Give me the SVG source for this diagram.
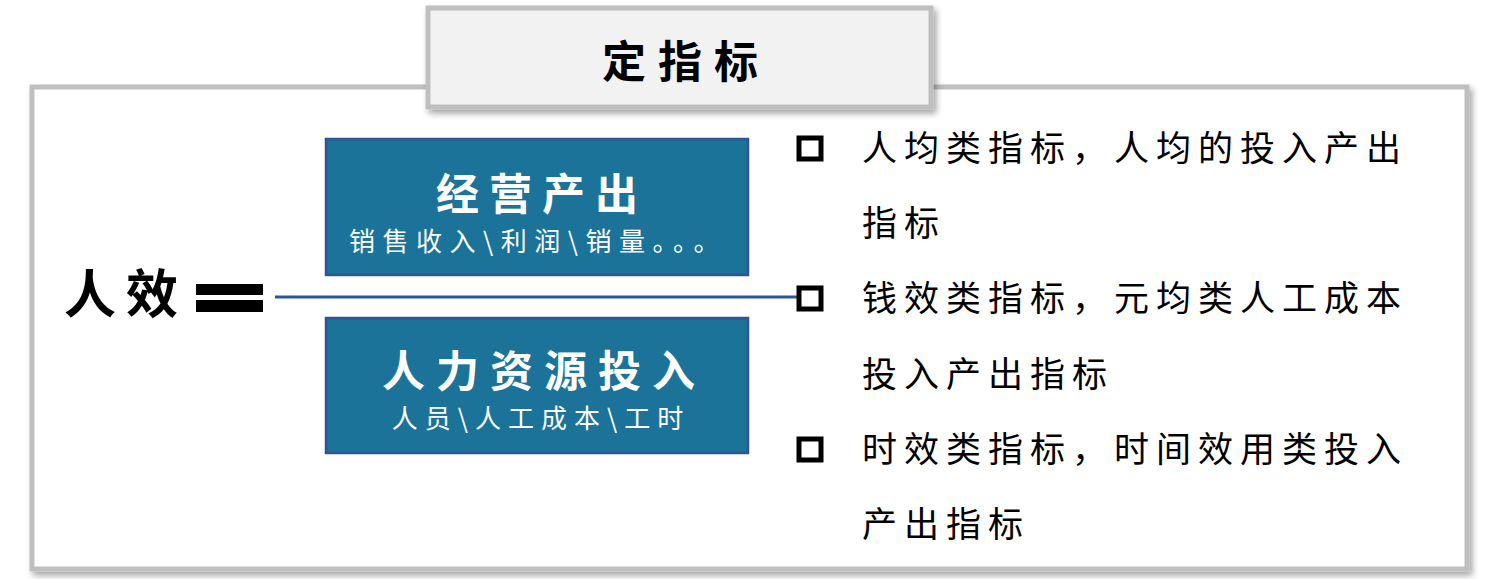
<svg xmlns="http://www.w3.org/2000/svg" width="1496" height="579" viewBox="0 0 1496 579">
<defs>
<filter id="sh" x="-10%" y="-10%" width="130%" height="140%">
<feDropShadow dx="3" dy="4" stdDeviation="3" flood-color="#000" flood-opacity="0.35"/>
</filter>
<style>
.cjk{font-family:"Noto Sans CJK SC","Noto Sans CJK JP",sans-serif}
.frame{fill:#fff;stroke:#bfbfbf;stroke-width:5}
.blue{fill:#1b7399;stroke:#2f5597;stroke-width:2.5}
.h{font-size:43px;font-weight:bold;fill:#fff;text-anchor:middle}
.s{font-size:26px;fill:#fff;text-anchor:middle}
.b{font-size:35px;fill:#000;letter-spacing:7px}
.sq{fill:#fff;stroke:#000;stroke-width:5}
</style>
</defs>
<rect width="1496" height="579" fill="#fff"/>
<g id="frame">
<rect class="frame" x="32" y="87" width="1435" height="482" filter="url(#sh)"/>
</g>
<g id="title">
<rect x="428" y="8" width="503" height="99" fill="#f2f2f2" stroke="#bfbfbf" stroke-width="5" filter="url(#sh)"/>
<text class="cjk" x="686" y="78" font-size="44" font-weight="bold" text-anchor="middle" letter-spacing="12">定指标</text>
</g>
<g id="renxiao">
<text class="cjk" x="64" y="313" font-size="52" font-weight="bold" letter-spacing="10">人效</text>
<rect x="196" y="284" width="67" height="11" fill="#000"/>
<rect x="196" y="300" width="67" height="12" fill="#000"/>
</g>
<g id="connectors">
<line x1="275" y1="297" x2="800" y2="297" stroke="#2a55a0" stroke-width="3"/>
</g>
<g id="output">
<rect class="blue" x="326" y="139" width="422" height="136"/>
<text class="cjk h" x="542" y="210" letter-spacing="10">经营产出</text>
<text class="cjk s" x="538" y="251" letter-spacing="7.5">销售收入\利润\销量。。。</text>
</g>
<g id="input">
<rect class="blue" x="326" y="318" width="422" height="135"/>
<text class="cjk h" x="544" y="387" letter-spacing="11">人力资源投入</text>
<text class="cjk s" x="541" y="428" letter-spacing="7">人员\人工成本\工时</text>
</g>
<g id="bullets">
<rect class="sq" x="799" y="138" width="22" height="21"/>
<text class="cjk b" x="862" y="161">人均类指标，人均的投入产出</text>
<text class="cjk b" x="862" y="236">指标</text>
<rect class="sq" x="799" y="288" width="22" height="21"/>
<text class="cjk b" x="862" y="311">钱效类指标，元均类人工成本</text>
<text class="cjk b" x="862" y="387">投入产出指标</text>
<rect class="sq" x="799" y="439" width="22" height="21"/>
<text class="cjk b" x="862" y="462">时效类指标，时间效用类投入</text>
<text class="cjk b" x="862" y="537">产出指标</text>
</g>
</svg>
